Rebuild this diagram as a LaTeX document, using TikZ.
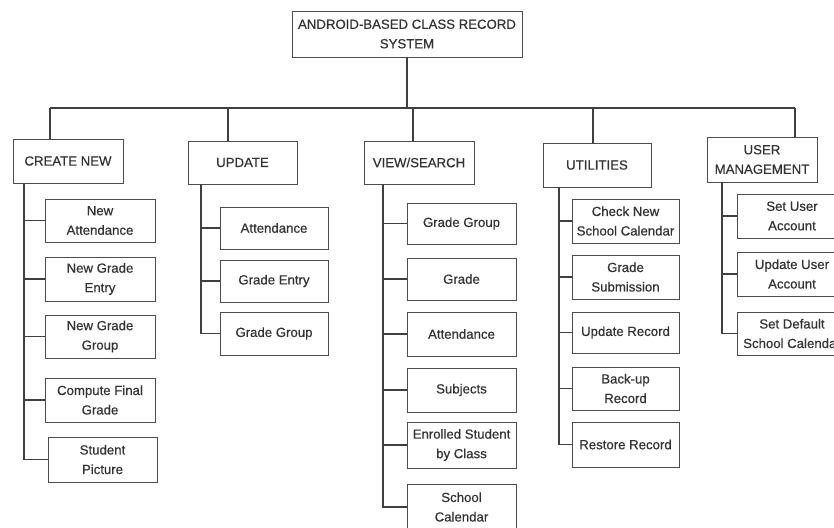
\documentclass[tikz,border=0pt]{standalone}
\usepackage{fontspec}
\setmainfont{Liberation Sans}
\newfontfamily\lblfont{Liberation Sans}[FakeBold=0.5]
\begin{document}
\begin{tikzpicture}[x=1pt,y=-1pt,
  every node/.style={font=\lblfont\fontsize{13.2}{19.5}\selectfont, text=black!80},
  box/.style={draw=black!70, line width=0.8pt, fill=white, align=center, inner sep=1pt, minimum width=#1},
  box/.default=108,
  link/.style={draw=black!75, line width=1.4pt}]
\useasboundingbox (0,0) rectangle (834,527);
\clip (0,0) rectangle (834,527);
\fill[white] (0,0) rectangle (834,527);

% root
\node[box=230, minimum height=46] (root) at (407,34) {ANDROID-BASED CLASS RECORD\\SYSTEM};

% top-level boxes
\node[box=110, minimum height=44] (cn) at (68,161) {CREATE NEW};
\node[box=109, minimum height=43] (up) at (242.5,162.5) {UPDATE};
\node[box=110, minimum height=43] (vs) at (419,162.5) {VIEW/SEARCH};
\node[box=108, minimum height=44] (ut) at (597,165) {UTILITIES};
\node[box=110, minimum height=45] (um) at (762,159.5) {USER\\MANAGEMENT};

% bus
\coordinate (bus) at (407,108);
\coordinate (d1) at (50,108);
\coordinate (d2) at (228,108);
\coordinate (d3) at (413,108);
\coordinate (d4) at (593,108);
\coordinate (d5) at (795,108);
\draw[link] (root.south) -- (bus);
\draw[link] (d1) -- (d5);
\draw[link] (d1) -- (d1 |- cn.north);
\draw[link] (d2) -- (d2 |- up.north);
\draw[link] (d3) -- (d3 |- vs.north);
\draw[link] (d4) -- (d4 |- ut.north);
\draw[link] (d5) -- (d5 |- um.north);

% CREATE NEW children
\node[box=110, minimum height=43] (c1) at (100,220.5) {New\\Attendance};
\node[box=110, minimum height=44] (c2) at (100,279) {New Grade\\Entry};
\node[box=110, minimum height=43] (c3) at (100,336.5) {New Grade\\Group};
\node[box=110, minimum height=44] (c4) at (100,400) {Compute Final\\Grade};
\node[box=109, minimum height=45] (c5) at (102.5,459.5) {Student\\Picture};
\coordinate (tcn) at (24,0);
\draw[link] (cn.south -| tcn) -- (c5.west -| tcn) -- (c5.west);
\foreach \n in {c1,c2,c3,c4} \draw[link] (\n.west -| tcn) -- (\n.west);

% UPDATE children
\node[box=108, minimum height=42] (u1) at (274,228) {Attendance};
\node[box=108, minimum height=42] (u2) at (274,281) {Grade Entry};
\node[box=108, minimum height=43] (u3) at (274,333.5) {Grade Group};
\coordinate (tup) at (201,0);
\draw[link] (up.south -| tup) -- (u3.west -| tup) -- (u3.west);
\foreach \n in {u1,u2} \draw[link] (\n.west -| tup) -- (\n.west);

% VIEW/SEARCH children
\node[box=109, minimum height=41] (v1) at (461.5,223.5) {Grade Group};
\node[box=109, minimum height=42] (v2) at (461.5,279) {Grade};
\node[box=109, minimum height=44] (v3) at (461.5,334) {Attendance};
\node[box=109, minimum height=44] (v4) at (461.5,390) {Subjects};
\node[box=109, minimum height=46] (v5) at (461.5,445) {Enrolled Student\\by Class};
\node[box=109, minimum height=46] (v6) at (461.5,507) {School\\Calendar};
\coordinate (tvs) at (383,0);
\draw[link] (vs.south -| tvs) -- (v6.west -| tvs) -- (v6.west);
\foreach \n in {v1,v2,v3,v4,v5} \draw[link] (\n.west -| tvs) -- (\n.west);

% UTILITIES children
\node[box=107, minimum height=44] (t1) at (625.5,221) {Check New\\School Calendar};
\node[box=107, minimum height=44] (t2) at (625.5,277) {Grade\\Submission};
\node[box=107, minimum height=41] (t3) at (625.5,332.5) {Update Record};
\node[box=107, minimum height=43] (t4) at (625.5,388.5) {Back-up\\Record};
\node[box=107, minimum height=45] (t5) at (625.5,444.5) {Restore Record};
\coordinate (tut) at (559,0);
\draw[link] (ut.south -| tut) -- (t5.west -| tut) -- (t5.west);
\foreach \n in {t1,t2,t3,t4} \draw[link] (\n.west -| tut) -- (\n.west);

% USER MANAGEMENT children
\node[box=110, minimum height=44] (m1) at (792,216) {Set User\\Account};
\node[box=110, minimum height=44] (m2) at (792,274) {Update User\\Account};
\node[box=110, minimum height=43] (m3) at (792,333.5) {Set Default\\School Calendar};
\coordinate (tum) at (722,0);
\draw[link] (um.south -| tum) -- (m3.west -| tum) -- (m3.west);
\foreach \n in {m1,m2} \draw[link] (\n.west -| tum) -- (\n.west);
\end{tikzpicture}
\end{document}
